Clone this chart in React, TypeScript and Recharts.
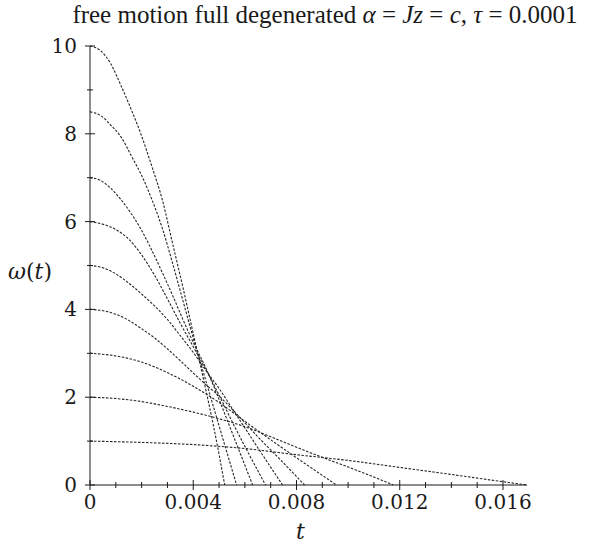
import { LineChart, Line, XAxis, YAxis, Label } from "recharts";

// t values and omega values, one pair of arrays per curve
const t10 = [0, 0.0004, 0.0008, 0.0012, 0.0016, 0.002, 0.0024, 0.0028, 0.0032, 0.0036, 0.004, 0.0044, 0.0048, 0.00522];
const w10 = [10, 9.9, 9.6, 9.1, 8.55, 7.95, 7.25, 6.5, 5.5, 4.5, 3.45, 2.4, 1.3, 0];

const t85 = [0, 0.0004, 0.0008, 0.0012, 0.0016, 0.002, 0.0024, 0.0028, 0.0032, 0.0036, 0.004, 0.0044, 0.0048, 0.0052, 0.00568];
const w85 = [8.5, 8.42, 8.2, 7.93, 7.5, 7.05, 6.5, 5.85, 5.05, 4.2, 3.35, 2.55, 1.75, 0.95, 0];

const t7 = [0, 0.0004, 0.0008, 0.0012, 0.0016, 0.002, 0.0024, 0.0028, 0.0032, 0.0036, 0.004, 0.0045, 0.005, 0.0055, 0.0063];
const w7 = [7, 6.94, 6.76, 6.5, 6.18, 5.8, 5.34, 4.84, 4.32, 3.77, 3.25, 2.65, 1.95, 1.2, 0];

const t6 = [0, 0.0005, 0.001, 0.0015, 0.002, 0.0025, 0.003, 0.0035, 0.004, 0.0045, 0.005, 0.0055, 0.006, 0.0068];
const w6 = [6, 5.94, 5.82, 5.6, 5.24, 4.78, 4.24, 3.68, 3.15, 2.62, 2.05, 1.45, 0.88, 0];

const t5 = [0, 0.0005, 0.001, 0.0015, 0.002, 0.0025, 0.003, 0.0035, 0.004, 0.0045, 0.005, 0.0055, 0.006, 0.0065, 0.00746];
const w5 = [5, 4.95, 4.81, 4.6, 4.35, 4.08, 3.77, 3.4, 3.02, 2.6, 2.2, 1.75, 1.3, 0.85, 0];

const t4 = [0, 0.0005, 0.001, 0.0015, 0.002, 0.0025, 0.003, 0.0035, 0.004, 0.0045, 0.005, 0.0055, 0.006, 0.0065, 0.007, 0.0075, 0.00831];
const w4 = [4, 3.97, 3.89, 3.75, 3.56, 3.35, 3.1, 2.83, 2.55, 2.28, 2.03, 1.73, 1.42, 1.1, 0.8, 0.5, 0];

const t3 = [0, 0.001, 0.002, 0.003, 0.004, 0.005, 0.006, 0.007, 0.008, 0.009, 0.00955];
const w3 = [3, 2.94, 2.8, 2.56, 2.25, 1.88, 1.45, 1.03, 0.62, 0.22, 0];

const t2 = [0, 0.001, 0.002, 0.003, 0.004, 0.005, 0.006, 0.007, 0.008, 0.009, 0.01, 0.011, 0.01175];
const w2 = [2, 1.97, 1.9, 1.79, 1.66, 1.51, 1.33, 1.1, 0.86, 0.63, 0.41, 0.18, 0];

const t1 = [0, 0.002, 0.004, 0.006, 0.008, 0.01, 0.012, 0.014, 0.016, 0.01693];
const w1 = [1, 0.97, 0.92, 0.83, 0.69, 0.56, 0.4, 0.24, 0.075, 0];

const xTicks = [0, 0.001, 0.002, 0.003, 0.004, 0.005, 0.006, 0.007, 0.008, 0.009, 0.01, 0.011, 0.012, 0.013, 0.014, 0.015, 0.016];
const xLabels = ["0", "0.004", "0.008", "0.012", "0.016"];
const yTicks = [0, 1, 2, 3, 4, 5, 6, 7, 8, 9, 10];

const curves = [
  { name: "w10", t: t10, w: w10 },
  { name: "w85", t: t85, w: w85 },
  { name: "w7", t: t7, w: w7 },
  { name: "w6", t: t6, w: w6 },
  { name: "w5", t: t5, w: w5 },
  { name: "w4", t: t4, w: w4 },
  { name: "w3", t: t3, w: w3 },
  { name: "w2", t: t2, w: w2 },
  { name: "w1", t: t1, w: w1 },
];

const TEXT_FONT = "'Liberation Serif', 'DejaVu Serif', serif";
const NUM_FONT = "'DejaVu Serif', serif";
const INK = "#1a1a1a";
const TICK_SIZE = 5;
const TICK_MARGIN = 4;

function fmtX(v: number) {
  if (v === 0) return "0";
  return v.toFixed(3);
}

function XTick(props: any) {
  const { x, y, payload } = props;
  const axisY = y - TICK_MARGIN - TICK_SIZE;
  const label = fmtX(payload.value);
  const major = xLabels.includes(label);
  return (
    <g>
      <line x1={x} x2={x} y1={axisY - (major ? 5 : 3)} y2={axisY + (major ? 5 : 3)} stroke={INK} strokeWidth={1} />
      {major && (
        <text x={x} y={axisY + 24} textAnchor="middle" fontFamily={NUM_FONT} fontSize={20} fill={INK}>
          {label}
        </text>
      )}
    </g>
  );
}

function YTick(props: any) {
  const { x, y, payload } = props;
  const axisX = x + TICK_MARGIN + TICK_SIZE;
  const major = payload.value % 2 === 0;
  return (
    <g>
      <line x1={axisX - (major ? 5 : 3)} x2={axisX + (major ? 5 : 3)} y1={y} y2={y} stroke={INK} strokeWidth={1} />
      {major && (
        <text x={axisX - 13} y={y + 7} textAnchor="end" fontFamily={NUM_FONT} fontSize={20} fill={INK}>
          {payload.value}
        </text>
      )}
    </g>
  );
}

export default function App() {
  return (
    <div style={{ position: "relative", width: 602, height: 549, background: "#fff" }}>
      <style>{`body{margin:0}`}</style>
      <div
        style={{
          position: "absolute",
          top: 1,
          left: 0,
          width: 650,
          textAlign: "center",
          fontFamily: TEXT_FONT,
          fontSize: 25,
          color: INK,
          whiteSpace: "nowrap",
        }}
      >
        free motion full degenerated <i>α</i> = <i>Jz</i> = <i>c</i>, <i>τ</i> = 0.0001
      </div>
      <div style={{ position: "absolute", top: 0, left: 0 }}>
        <LineChart width={602} height={549} margin={{ top: 46, right: 75, bottom: 0, left: 0 }}>
          <XAxis
            type="number"
            dataKey="t"
            domain={[0, 0.01693]}
            ticks={xTicks}
            interval={0}
            height={64}
            tickSize={TICK_SIZE}
            tickMargin={TICK_MARGIN}
            tickLine={false}
            tick={<XTick />}
            stroke={INK}
            allowDataOverflow
          >
            <Label
              content={(p: any) => {
                const vb = p.viewBox;
                return (
                  <text x={vb.x + vb.width / 2 - 8} y={vb.y + 54} textAnchor="middle" fontFamily={NUM_FONT} fontSize={22} fontStyle="italic" fill={INK}>
                    t
                  </text>
                );
              }}
            />
          </XAxis>
          <YAxis
            type="number"
            domain={[0, 10]}
            ticks={yTicks}
            interval={0}
            width={90}
            tickSize={TICK_SIZE}
            tickMargin={TICK_MARGIN}
            tickLine={false}
            tick={<YTick />}
            stroke={INK}
          >
            <Label
              content={(p: any) => {
                const vb = p.viewBox;
                return (
                  <text x={vb.x + 8} y={vb.y + vb.height / 2 + 13} textAnchor="start" fontFamily={NUM_FONT} fontSize={22} fill={INK}>
                    <tspan fontStyle="italic">ω</tspan>
                    <tspan>(</tspan>
                    <tspan fontStyle="italic">t</tspan>
                    <tspan>)</tspan>
                  </text>
                );
              }}
            />
          </YAxis>
          {curves.map((c) => (
            <Line
              key={c.name}
              data={c.t.map((t, i) => ({ t, w: c.w[i] }))}
              dataKey="w"
              type="monotone"
              stroke="#262626"
              strokeWidth={1.1}
              strokeDasharray="2.5 1.5"
              dot={false}
              isAnimationActive={false}
            />
          ))}
        </LineChart>
      </div>
    </div>
  );
}
